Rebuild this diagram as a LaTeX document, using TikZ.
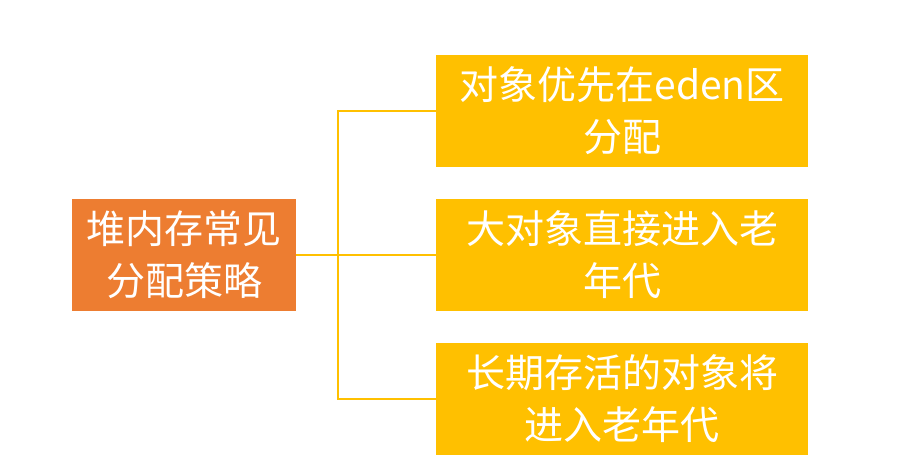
\documentclass[tikz,border=0pt]{standalone}
\usepackage{fontspec}
\newfontfamily\cjk{Noto Sans CJK SC}
\definecolor{lo}{HTML}{ED7D31}
\definecolor{ly}{HTML}{FFC000}
\begin{document}
\begin{tikzpicture}[x=1pt,y=-1pt,
 box/.style={draw=none,minimum width=372pt,minimum height=112pt,fill=ly,text=white,align=center,font=\cjk\fontsize{39}{52}\selectfont,inner sep=0pt},
 ln/.style={draw=ly,line width=1.5pt}]
\useasboundingbox (0,0) rectangle (913,473);
\node[box,fill=lo,minimum width=224pt] (L) at (184,255) {堆内存常见\\分配策略};
\node[box] (A) at (622,111) {对象优先在eden区\\分配};
\node[box] (B) at (622,255) {大对象直接进入老\\年代};
\node[box] (C) at (622,399) {长期存活的对象将\\进入老年代};
\coordinate (J) at (338,255);
\draw[ln] (L.east) -- (J) (J) |- (A.west) (J) |- (C.west) (J) -- (B.west);
\end{tikzpicture}
\end{document}
